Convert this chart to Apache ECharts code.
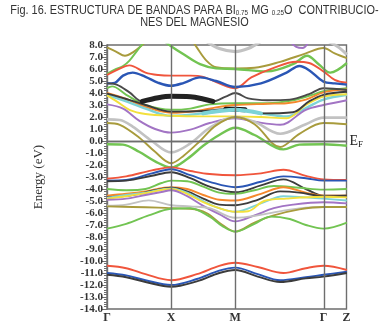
<!DOCTYPE html>
<html><head><meta charset="utf-8">
<script src="https://cdn.jsdelivr.net/npm/echarts@6/dist/echarts.min.js"></script>
<style>html,body{margin:0;padding:0;background:#fff}#c{width:389px;height:324px}</style>
</head><body><div id="c"></div>
<script>
// ---- tick data ----
const kTicks = [0, 1, 2, 3.375, 3.734];
const kLabels = ['Γ', 'X', 'M', 'Γ', 'Z'];
const energyTicksMin = -14, energyTicksMax = 8;

// ---- bands: [k, E(eV)] ----
const oliveA = [[0,7.8],[0.14,7.45],[0.28,7.1],[0.42,7.45],[0.55,8.0],[0.65,8.5]];
const oliveB = [[1.3,8.6],[1.4,7.8],[1.55,6.7],[1.7,6.15],[2.0,6.05],[2.3,6.1],[2.7,6.6],[3.1,7.3],[3.375,7.75],[3.55,7.3],[3.74,6.9]];
const grayTop = [[1.55,8.3],[1.75,7.7],[2.0,7.45],[2.2,7.7],[2.4,8.3]];
const grayTop2 = [[3.45,8.3],[3.6,7.85],[3.74,7.2]];
const purpleTop = [[2.85,8.3],[2.95,7.85],[3.05,7.75],[3.15,8.3]];
const greenA = [[0,5.6],[0.12,5.95],[0.25,6.25],[0.35,6.7],[0.48,7.6],[0.6,8.4]];
const greenB = [[0.85,8.5],[1.0,7.9],[1.2,7.2],[1.45,6.4],[1.7,6.05],[2.0,6.0],[2.5,5.8],[2.9,6.4],[3.12,7.1],[3.3,6.4],[3.48,5.7],[3.74,6.5]];
const redA = [[0,5.5],[0.15,5.9],[0.35,6.3],[0.6,5.7],[0.8,5.5],[1.0,5.45],[1.3,5.45],[1.5,5.35],[1.75,4.8],[2.0,4.4],[2.25,5.3],[2.6,6.1],[2.95,6.6],[3.15,6.5],[3.375,5.8],[3.55,5.1],[3.74,4.85]];
const blueA = [[0,4.8],[0.12,4.85],[0.25,5.45],[0.4,5.7],[0.6,5.35],[0.8,4.85],[1.0,4.6],[1.2,4.85],[1.45,5.3],[1.7,5.0],[2.0,4.5],[2.4,4.8],[2.8,5.7],[3.0,6.25],[3.15,5.9],[3.375,4.95],[3.55,4.8],[3.74,4.7]];
const blackA = [[0,4.8],[0.15,4.7],[0.35,4.05],[0.55,3.3],[0.8,3.6],[1.0,3.72],[1.3,3.68],[1.5,3.5],[1.65,3.3],[1.85,3.7],[2.0,4.0],[2.2,3.55],[2.5,3.4],[2.85,3.45],[3.15,3.9],[3.375,4.4],[3.74,4.25]];
const greenC = [[0,4.4],[0.08,4.55],[0.3,3.85],[0.6,3.0],[1.0,2.6],[1.3,2.7],[1.6,3.05],[2.0,3.15],[2.5,3.15],[2.9,3.4],[3.2,3.85],[3.375,4.15],[3.74,4.4]];
const orangeA = [[0,4.0],[0.3,3.5],[0.6,2.85],[1.0,2.35],[1.4,2.5],[1.7,2.8],[2.0,3.0],[2.5,3.1],[2.8,3.15],[3.1,3.45],[3.375,4.05],[3.74,4.3]];
const blackB = [[0,3.95],[0.3,3.5],[0.6,3.0],[1.0,2.45],[1.5,2.5],[1.85,2.65],[2.0,2.65],[2.15,2.6],[2.4,2.3],[2.9,2.4],[3.15,3.3],[3.375,3.85],[3.74,4.1]];
const cyanA = [[0,3.85],[0.3,3.3],[0.6,2.7],[1.0,2.1],[1.5,2.3],[2.0,2.6],[2.4,2.3],[2.8,2.05],[3.1,2.75],[3.375,3.45],[3.74,3.85]];
const yellowA = [[0,3.8],[0.15,3.3],[0.35,2.6],[0.6,2.25],[1.0,2.1],[1.5,2.05],[2.0,2.05],[2.4,2.0],[2.8,1.9],[3.1,3.0],[3.375,3.7],[3.74,3.9]];
const purpleA = [[0,3.05],[0.25,2.7],[0.5,1.7],[0.75,1.0],[1.0,0.7],[1.3,0.95],[1.6,1.5],[2.0,1.9],[2.3,1.6],[2.7,1.35],[3.1,2.6],[3.375,3.0],[3.74,3.4]];
const grayA = [[0,1.8],[0.2,1.75],[0.4,1.2],[0.7,0.0],[1.0,-0.95],[1.3,-0.2],[1.6,1.1],[2.0,2.0],[2.3,1.6],[2.7,0.6],[3.1,1.4],[3.375,1.95],[3.74,1.95]];
const oliveD = [[0,1.5],[0.2,1.35],[0.5,0.3],[0.75,-0.9],[1.0,-1.85],[1.2,-1.2],[1.45,0.0],[1.7,1.3],[2.0,2.0],[2.3,1.4],[2.7,-0.5],[3.0,0.6],[3.375,1.5],[3.74,1.4]];
const greenF = [[0,-0.27],[0.25,-0.3],[0.5,-0.9],[0.75,-1.7],[1.0,-2.2],[1.25,-1.5],[1.5,-0.4],[1.75,0.5],[2.0,1.1],[2.3,0.5],[2.75,-0.7],[3.0,-0.3],[3.375,-0.27],[3.74,-0.4]];
const redB = [[0,-3.15],[0.3,-2.95],[0.7,-2.45],[1.0,-2.2],[1.3,-2.5],[1.6,-2.75],[2.0,-2.85],[2.4,-2.7],[2.75,-2.4],[3.1,-2.9],[3.375,-3.2],[3.74,-3.25]];
const blueB = [[0,-3.3],[0.3,-3.25],[0.7,-2.7],[1.0,-2.35],[1.3,-2.85],[1.6,-3.4],[2.0,-3.85],[2.4,-3.4],[2.75,-2.95],[3.1,-3.1],[3.375,-3.3],[3.74,-3.3]];
const blackC = [[0,-3.35],[0.3,-3.3],[0.7,-2.9],[1.0,-2.6],[1.3,-3.1],[1.6,-3.8],[2.0,-4.27],[2.4,-3.7],[2.75,-3.2],[3.1,-4.0],[3.375,-4.55],[3.74,-4.55]];
const greenE = [[0,-4.0],[0.3,-4.1],[0.6,-4.0],[0.85,-3.5],[1.0,-3.3],[1.25,-3.35],[1.5,-3.8],[1.75,-4.3],[2.0,-4.4],[2.3,-4.1],[2.6,-3.75],[3.0,-3.9],[3.375,-4.05],[3.74,-4.0]];
const orangeB = [[0,-4.55],[0.3,-4.4],[0.6,-4.2],[1.0,-3.85],[1.25,-4.0],[1.5,-4.5],[1.75,-4.9],[2.0,-4.96],[2.4,-4.4],[2.75,-3.85],[3.1,-4.3],[3.375,-4.55],[3.74,-4.55]];
const blackD = [[0,-4.7],[0.4,-4.5],[0.75,-4.1],[1.0,-3.9],[1.25,-4.2],[1.5,-4.8],[1.75,-5.3],[2.0,-5.35],[2.35,-4.9],[2.7,-4.2],[3.0,-4.3],[3.375,-4.6],[3.74,-4.55]];
const cyanB = [[0,-4.75],[0.3,-4.5],[0.6,-4.3],[1.0,-3.95],[1.25,-4.3],[1.5,-5.0],[1.75,-5.6],[2.0,-5.9],[2.4,-5.2],[2.75,-4.6],[3.1,-4.7],[3.375,-4.8],[3.74,-4.96]];
const yellowB = [[0,-4.8],[0.3,-4.6],[0.6,-4.35],[1.0,-4.0],[1.25,-4.4],[1.5,-5.1],[1.75,-5.6],[2.0,-5.9],[2.2,-5.85],[2.45,-5.0],[2.8,-4.8],[3.375,-4.65],[3.74,-4.7]];
const purpleB = [[0,-4.9],[0.3,-4.8],[0.6,-4.5],[0.85,-4.25],[1.0,-4.1],[1.25,-4.6],[1.5,-5.4],[1.75,-6.1],[2.0,-6.7],[2.3,-6.2],[2.6,-5.6],[2.9,-5.3],[3.375,-5.1],[3.74,-5.2]];
const grayB = [[0,-5.4],[0.3,-5.3],[0.65,-4.95],[1.0,-5.35],[1.3,-5.45],[1.6,-5.6],[2.0,-6.4],[2.35,-6.2],[2.75,-5.8],[3.1,-5.55],[3.375,-5.5],[3.74,-5.5]];
const oliveE = [[0,-5.45],[0.4,-5.5],[0.8,-5.55],[1.0,-5.6],[1.3,-5.65],[1.55,-6.0],[1.8,-7.0],[2.0,-7.55],[2.3,-6.8],[2.6,-6.2],[3.0,-5.7],[3.375,-5.5],[3.74,-5.5]];
const greenG = [[0,-7.3],[0.3,-6.9],[0.65,-6.2],[1.0,-5.65],[1.3,-5.6],[1.6,-6.3],[1.8,-7.1],[2.0,-7.55],[2.3,-6.9],[2.55,-6.3],[2.85,-6.5],[3.1,-7.0],[3.375,-7.3],[3.74,-6.8]];
const redC = [[0,-10.4],[0.3,-10.6],[0.6,-11.1],[1.0,-11.6],[1.4,-11.1],[1.75,-10.4],[2.0,-10.15],[2.35,-10.5],[2.75,-11.0],[3.1,-10.6],[3.375,-10.4],[3.74,-10.75]];
const blueC = [[0,-11.0],[0.3,-11.2],[0.6,-11.6],[1.0,-12.0],[1.4,-11.5],[1.75,-10.8],[2.0,-10.55],[2.35,-11.1],[2.7,-11.6],[3.1,-11.35],[3.375,-11.15],[3.74,-10.9]];
const blackE = [[0,-11.15],[0.3,-11.35],[0.6,-11.75],[1.0,-12.15],[1.4,-11.7],[1.75,-11.0],[2.0,-10.75],[2.35,-11.3],[2.7,-11.75],[3.1,-11.45],[3.375,-11.3],[3.74,-11.0]];

// ---- styling ----
const C = {
  red:'#f0553c', blue:'#2a56b5', black:'#3c3c3c', green:'#72c452', olive:'#a89b3c',
  gray:'#c2c2c2', orange:'#f5882c', cyan:'#7dd3d6', yellow:'#f3e03c', purple:'#a274c4'
};
const bands = [
  [oliveA,C.olive],[oliveB,C.olive],[grayTop,C.gray,3.2],[grayTop2,C.gray,3],[purpleTop,C.purple],
  [greenA,C.green],[greenB,C.green,2.4],[redA,C.red],[blueA,C.blue,2.4],
  [greenC,C.green],[orangeA,C.orange],[cyanA,C.cyan,2.4],[yellowA,C.yellow],[purpleA,C.purple],
  [grayA,C.gray,2.6],[oliveD,C.olive],[greenF,C.green,2.4],[blackA,'#4a4a4a'],[blackB,C.black],
  [redB,C.red],[blueB,C.blue],[blackC,C.black],[greenE,C.green],[orangeB,C.orange],[blackD,C.black],
  [cyanB,C.cyan],[yellowB,C.yellow],[purpleB,C.purple],[grayB,C.gray],[oliveE,C.olive],[greenG,C.green],
  [redC,C.red],[blueC,C.blue],[blackE,C.black]
];
const inRange = (arr, a, b) => arr.filter(p => p[0] >= a && p[0] <= b);
const thick = [
  [inRange(blackA, 0.55, 1.65), '#222', 5],
  [inRange(blackB, 1.85, 2.15), '#111', 5],
  [inRange(cyanA, 1.5, 2.4), C.cyan, 4]
];

const series = bands.map(([d, col, w]) => ({
  type:'line', data:d, smooth:0.35, showSymbol:false, silent:true,
  lineStyle:{color:col, width:w || 1.9}
}));
thick.forEach(([d, col, w]) => series.push({
  type:'line', data:d, smooth:0.35, showSymbol:false, silent:true,
  lineStyle:{color:col, width:w, cap:'round'}
}));
const axisGray = '#6e6e6e';
series.push({
  type:'line', data:[], silent:true,
  markLine:{
    symbol:'none', silent:true, animation:false,
    lineStyle:{color:axisGray, width:1.4, type:'solid'},
    label:{show:false},
    data:[
      {xAxis:kTicks[1]},{xAxis:kTicks[2]},{xAxis:kTicks[3]},
      {yAxis:0, label:{show:true, position:'end', distance:3,
        formatter:'{e|E}{f|F}',
        rich:{e:{fontFamily:'Liberation Serif', fontSize:14, color:'#222'},
              f:{fontFamily:'Liberation Serif', fontSize:9, color:'#222', padding:[8,0,0,0]}}}}
    ]
  }
});

const serif = 'Liberation Serif, DejaVu Serif, serif';
const sans = 'Liberation Sans, Arial, sans-serif';
const titleRich = {
  a:{fontFamily:sans, fontSize:13, fill:'#333', lineHeight:12},
  s:{fontFamily:sans, fontSize:7.5, fill:'#333', lineHeight:12, padding:[6,0,0,0]}
};
const chart = echarts.init(document.getElementById('c'), null, {renderer:'canvas'});
chart.setOption({
  animation:false,
  graphic:[{
    type:'text', x:194.5, y:4, scaleX:0.84, silent:true,
    style:{
      text:'{a|Fig. 16. ESTRUCTURA DE BANDAS PARA BI}{s|0.75}{a| MG }{s|0.25}{a|O  CONTRIBUCIO-}\n{a|NES DEL MAGNESIO}',
      align:'center', verticalAlign:'top', rich:titleRich, fill:'#333'
    }
  }],
  grid:{left:107, right:42.5, top:45, bottom:13, show:true, borderColor:axisGray, borderWidth:1.4},
  xAxis:{
    type:'value', min:kTicks[0], max:kTicks[4],
    axisLine:{show:true, lineStyle:{color:axisGray, width:1.4}},
    axisTick:{show:false},
    splitLine:{show:false},
    axisLabel:{
      customValues:kTicks, margin:3,
      formatter:(v)=>{ const i = kTicks.findIndex(t=>Math.abs(t-v)<1e-6); return i>=0 ? kLabels[i] : ''; },
      fontFamily:serif, fontSize:12, fontWeight:'bold', color:'#333'
    }
  },
  yAxis:{
    type:'value', min:energyTicksMin, max:energyTicksMax, interval:1,
    name:'Energy (eV)', nameLocation:'middle', nameGap:62, nameRotate:90,
    nameTextStyle:{fontFamily:serif, fontSize:13, color:'#333'},
    axisLine:{show:true, lineStyle:{color:axisGray, width:1.4}},
    axisTick:{show:true, length:5, lineStyle:{color:axisGray}},
    minorTick:{show:true, splitNumber:5, length:3, lineStyle:{color:axisGray}},
    splitLine:{show:false},
    axisLabel:{formatter:(v)=>v.toFixed(1), fontFamily:serif, fontSize:11, fontWeight:'bold', color:'#333', margin:4}
  },
  series
});
</script></body></html>
